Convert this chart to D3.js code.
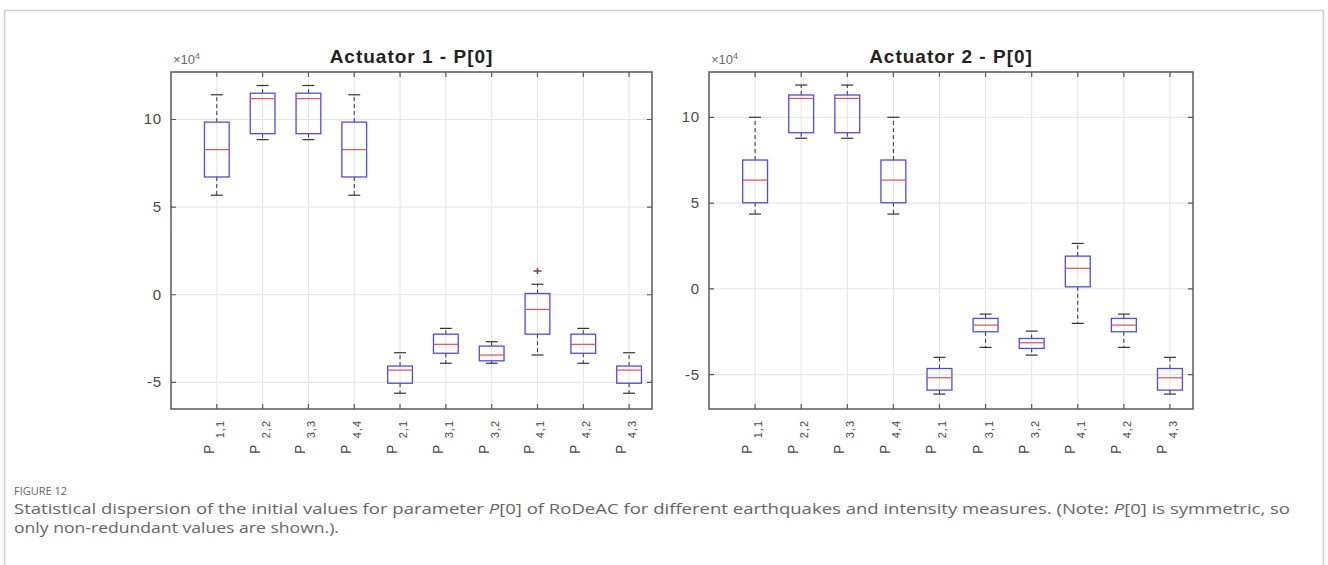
<!DOCTYPE html>
<html>
<head>
<meta charset="utf-8">
<script src="https://d3js.org/d3.v7.min.js"></script>
<style>
body { margin: 0; background: #fff; }
</style>
</head>
<body>
<div id="chart"></div>
<script>

// category labels (subscripts of P)
var categories = ["1,1", "2,2", "3,3", "4,4", "2,1", "3,1", "3,2", "4,1", "4,2", "4,3"];
var yTicks = [-5, 0, 5, 10];

// Actuator 1, values in units of 10^4
var act1Low  = [5.68, 8.85, 8.85, 5.68, -5.62, -3.91, -3.91, -3.44, -3.91, -5.62];
var act1Q1   = [6.72, 9.19, 9.19, 6.72, -5.05, -3.34, -3.77, -2.25, -3.34, -5.05];
var act1Med  = [8.28, 11.19, 11.19, 8.28, -4.30, -2.83, -3.44, -0.84, -2.83, -4.30];
var act1Q3   = [9.85, 11.50, 11.50, 9.85, -4.07, -2.25, -2.93, 0.07, -2.25, -4.07];
var act1High = [11.41, 11.94, 11.94, 11.41, -3.31, -1.92, -2.68, 0.60, -1.92, -3.31];
var act1Outliers = [{i: 7, v: 1.36}];

// Actuator 2
var act2Low  = [4.36, 8.78, 8.78, 4.36, -6.13, -3.41, -3.86, -2.01, -3.41, -6.13];
var act2Q1   = [5.02, 9.10, 9.10, 5.02, -5.90, -2.50, -3.47, 0.12, -2.50, -5.90];
var act2Med  = [6.34, 11.10, 11.10, 6.34, -5.18, -2.11, -3.14, 1.20, -2.11, -5.18];
var act2Q3   = [7.51, 11.30, 11.30, 7.51, -4.64, -1.72, -2.89, 1.91, -1.72, -4.64];
var act2High = [10.00, 11.88, 11.88, 10.00, -3.99, -1.47, -2.46, 2.65, -1.47, -3.99];
var act2Outliers = [];

var W = 1328, H = 565;

var svg = d3.select("#chart").append("svg")
    .attr("width", W)
    .attr("height", H);

// outer frame of the figure
svg.append("path")
  .attr("d", "M4.5,600 L4.5,10.5 L1323.5,10.5 L1323.5,600")
  .attr("fill", "none")
  .attr("stroke", "#cfcfcf")
  .attr("stroke-width", 1.5);

function drawPanel(opt) {
  var x = d3.scaleLinear().domain([0, 10.5]).range([opt.left, opt.right]);
  var y = d3.scaleLinear().domain(opt.yDomain).range([opt.bottom, opt.top]);
  var g = svg.append("g");

  var boxes = categories.map(function(c, i) {
    return {i: i + 1, low: opt.low[i], q1: opt.q1[i], med: opt.med[i], q3: opt.q3[i], high: opt.high[i]};
  });

  // grid
  g.selectAll(".vgrid").data(boxes).enter().append("line")
    .attr("x1", function(d) { return x(d.i); })
    .attr("x2", function(d) { return x(d.i); })
    .attr("y1", opt.top).attr("y2", opt.bottom)
    .attr("stroke", "#e3e3e3").attr("stroke-width", 1);
  g.selectAll(".hgrid").data(yTicks).enter().append("line")
    .attr("x1", opt.left).attr("x2", opt.right)
    .attr("y1", function(d) { return y(d); })
    .attr("y2", function(d) { return y(d); })
    .attr("stroke", "#e3e3e3").attr("stroke-width", 1);

  var hw = (x(0.27) - x(0));   // half box width
  var cw = (x(0.13) - x(0));   // half cap width

  var b = g.selectAll(".box").data(boxes).enter().append("g");

  // whiskers
  b.append("line")
    .attr("x1", function(d) { return x(d.i); }).attr("x2", function(d) { return x(d.i); })
    .attr("y1", function(d) { return y(d.q3); }).attr("y2", function(d) { return y(d.high); })
    .attr("stroke", "#333").attr("stroke-dasharray", "4,3").attr("stroke-width", 1);
  b.append("line")
    .attr("x1", function(d) { return x(d.i); }).attr("x2", function(d) { return x(d.i); })
    .attr("y1", function(d) { return y(d.q1); }).attr("y2", function(d) { return y(d.low); })
    .attr("stroke", "#333").attr("stroke-dasharray", "4,3").attr("stroke-width", 1);
  // caps
  b.append("line")
    .attr("x1", function(d) { return x(d.i) - cw; }).attr("x2", function(d) { return x(d.i) + cw; })
    .attr("y1", function(d) { return y(d.high); }).attr("y2", function(d) { return y(d.high); })
    .attr("stroke", "#333").attr("stroke-width", 1.2);
  b.append("line")
    .attr("x1", function(d) { return x(d.i) - cw; }).attr("x2", function(d) { return x(d.i) + cw; })
    .attr("y1", function(d) { return y(d.low); }).attr("y2", function(d) { return y(d.low); })
    .attr("stroke", "#333").attr("stroke-width", 1.2);
  // box
  b.append("rect")
    .attr("x", function(d) { return x(d.i) - hw; })
    .attr("width", 2 * hw)
    .attr("y", function(d) { return y(d.q3); })
    .attr("height", function(d) { return y(d.q1) - y(d.q3); })
    .attr("fill", "none")
    .attr("stroke", "#4b4bf5").attr("stroke-width", 1.3);
  // median
  b.append("line")
    .attr("x1", function(d) { return x(d.i) - hw; }).attr("x2", function(d) { return x(d.i) + hw; })
    .attr("y1", function(d) { return y(d.med); }).attr("y2", function(d) { return y(d.med); })
    .attr("stroke", "#f04a4a").attr("stroke-width", 1.2);

  // outliers
  g.selectAll(".out").data(opt.outliers).enter().append("path")
    .attr("d", function(d) {
      var cx = x(d.i + 1), cy = y(d.v);
      return "M" + (cx - 4) + "," + cy + "H" + (cx + 4) + "M" + cx + "," + (cy - 3) + "V" + (cy + 3);
    })
    .attr("stroke", "#8a3a50").attr("stroke-width", 1.5);

  // axes frame
  g.append("rect")
    .attr("x", opt.left).attr("y", opt.top)
    .attr("width", opt.right - opt.left).attr("height", opt.bottom - opt.top)
    .attr("fill", "none").attr("stroke", "#5a5a5a").attr("stroke-width", 1.5);

  // ticks inside, on all four sides
  g.selectAll(".xt").data(boxes).enter().append("path")
    .attr("d", function(d) {
      var xx = x(d.i);
      return "M" + xx + "," + opt.bottom + "v-5M" + xx + "," + opt.top + "v5";
    })
    .attr("stroke", "#5a5a5a").attr("stroke-width", 1.2);
  g.selectAll(".yt").data(yTicks).enter().append("path")
    .attr("d", function(d) {
      var yy = y(d);
      return "M" + opt.left + "," + yy + "h5M" + opt.right + "," + yy + "h-5";
    })
    .attr("stroke", "#5a5a5a").attr("stroke-width", 1.2);

  // y tick labels
  g.selectAll(".yl").data(yTicks).enter().append("text")
    .attr("x", opt.left - 9)
    .attr("y", function(d) { return y(d) + 5; })
    .attr("text-anchor", "end")
    .attr("font-family", "Liberation Sans, Arial, sans-serif")
    .attr("font-size", 15)
    .attr("letter-spacing", 0.8)
    .attr("fill", "#4a4a4a")
    .text(function(d) { return d; });

  // x tick labels, rotated: P with subscript
  g.selectAll(".xlP").data(boxes).enter().append("text")
    .attr("transform", function(d) { return "translate(" + (x(d.i) - 3) + "," + 454 + ") rotate(-90)"; })
    .attr("text-anchor", "start")
    .attr("font-family", "Liberation Sans, Arial, sans-serif")
    .attr("font-size", 14)
    .attr("fill", "#4a4a4a")
    .text("P");
  g.selectAll(".xlS").data(boxes).enter().append("text")
    .attr("transform", function(d) { return "translate(" + (x(d.i) + 7) + "," + 420 + ") rotate(-90)"; })
    .attr("text-anchor", "end")
    .attr("font-family", "Liberation Sans, Arial, sans-serif")
    .attr("font-size", 11)
    .attr("letter-spacing", 1)
    .attr("fill", "#4a4a4a")
    .text(function(d) { return categories[d.i - 1]; });

  // exponent label
  var ex = g.append("text")
    .attr("x", opt.left + 2).attr("y", opt.top - 8)
    .attr("font-family", "Liberation Sans, Arial, sans-serif")
    .attr("font-size", 13)
    .attr("fill", "#6a6a6a");
  ex.append("tspan").text("\u00d710");
  ex.append("tspan").attr("dy", -5).attr("font-size", 9).text("4");

  // title
  g.append("text")
    .attr("x", (opt.left + opt.right) / 2).attr("y", 63)
    .attr("text-anchor", "middle")
    .attr("font-family", "Liberation Sans, Arial, sans-serif")
    .attr("font-weight", "bold")
    .attr("font-size", 19)
    .attr("letter-spacing", 1)
    .attr("fill", "#222")
    .text(opt.title);
}

drawPanel({
  title: "Actuator 1 - P[0]",
  left: 171, right: 652, top: 72, bottom: 409,
  yDomain: [-6.52, 12.71],
  low: act1Low, q1: act1Q1, med: act1Med, q3: act1Q3, high: act1High,
  outliers: act1Outliers
});

drawPanel({
  title: "Actuator 2 - P[0]",
  left: 709, right: 1193, top: 72, bottom: 409,
  yDomain: [-7.0, 12.64],
  low: act2Low, q1: act2Q1, med: act2Med, q3: act2Q3, high: act2High,
  outliers: act2Outliers
});

// caption
var capFont = "Open Sans, Noto Sans, sans-serif";
svg.append("text")
  .attr("x", 14).attr("y", 495)
  .attr("font-family", capFont)
  .attr("font-size", 11)
  .attr("fill", "#666")
  .text("FIGURE 12");

var l1 = svg.append("text")
  .attr("x", 14).attr("y", 514)
  .attr("font-family", capFont)
  .attr("font-size", 15)
  .attr("fill", "#666")
  .attr("textLength", 1276)
  .attr("lengthAdjust", "spacingAndGlyphs");
l1.append("tspan").text("Statistical dispersion of the initial values for parameter ");
l1.append("tspan").attr("font-style", "italic").text("P");
l1.append("tspan").text("[0] of RoDeAC for different earthquakes and intensity measures. (Note: ");
l1.append("tspan").attr("font-style", "italic").text("P");
l1.append("tspan").text("[0] is symmetric, so");

svg.append("text")
  .attr("x", 14).attr("y", 533)
  .attr("font-family", capFont)
  .attr("font-size", 15)
  .attr("fill", "#666")
  .attr("textLength", 325)
  .attr("lengthAdjust", "spacingAndGlyphs")
  .text("only non-redundant values are shown.).");

</script>
</body>
</html>
